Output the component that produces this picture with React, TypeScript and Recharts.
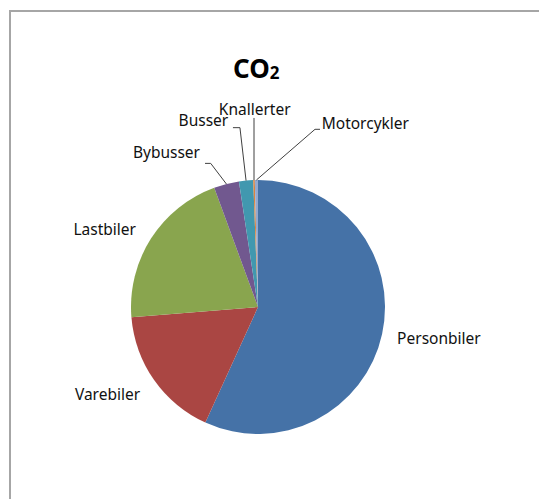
import { PieChart, Pie, Cell } from 'recharts';

// CO2 share per vehicle type (%)
const categories = ['Personbiler', 'Varebiler', 'Lastbiler', 'Bybusser', 'Busser', 'Knallerter', 'Motorcykler'];
const shares = [56.8, 16.9, 20.7, 3.2, 1.8, 0.2, 0.4];

const COLORS = ['#4572A7', '#AA4643', '#89A54E', '#71588F', '#4198AF', '#DB843D', '#93A9CF'];

const pieData = categories.map((name, i) => ({ name, value: shares[i] }));

const FONT = '"Noto Sans", "Open Sans", sans-serif';
const RADIAN = Math.PI / 180;

// label placement, relative to the point where the slice's mid-angle meets the rim
type LabelPlacement = {
  text: [number, number];
  anchor: 'start' | 'middle' | 'end';
  elbow?: [number, number];
  tail?: number;
};

const placements: Record<string, LabelPlacement> = {
  Personbiler: { text: [15, 10.5], anchor: 'start' },
  Varebiler: { text: [-14, 20], anchor: 'end' },
  Lastbiler: { text: [-15, -3.5], anchor: 'end' },
  Bybusser: { text: [-26.4, -26.2], anchor: 'end', elbow: [-15.7, -20.6], tail: -21.4 },
  Busser: { text: [-17.8, -54.9], anchor: 'end', elbow: [-6.1, -52.9], tail: -13.1 },
  Knallerter: { text: [0.7, -65.1], anchor: 'middle', elbow: [0, -62.1] },
  Motorcykler: { text: [65.3, -50.7], anchor: 'start', elbow: [58.6, -50.7], tail: 63.6 },
};

function renderLabel(props: any) {
  const { cx, cy, midAngle, outerRadius, name } = props;
  const ex = cx + outerRadius * Math.cos(-midAngle * RADIAN);
  const ey = cy + outerRadius * Math.sin(-midAngle * RADIAN);
  const p = placements[name];
  if (!p) return null;
  let leader = null;
  if (p.elbow) {
    const bx = ex + p.elbow[0];
    const by = ey + p.elbow[1];
    let d = `M${ex},${ey}L${bx},${by}`;
    if (p.tail !== undefined) d += `L${ex + p.tail},${by}`;
    leader = <path d={d} stroke="#404040" strokeWidth={1} fill="none" />;
  }
  return (
    <g>
      {leader}
      <text
        x={ex + p.text[0]}
        y={ey + p.text[1]}
        textAnchor={p.anchor}
        fill="#111"
        fontSize={15.5}
        fontFamily={FONT}
      >
        {name}
      </text>
    </g>
  );
}

export default function App() {
  return (
    <div style={{ position: 'fixed', left: 0, top: 0, width: 539, height: 499, overflow: 'hidden', background: '#fff' }}>
      <style>{'html, body { margin: 0; overflow: hidden; }'}</style>
      <div style={{ position: 'absolute', left: 0, top: 0 }}>
        <PieChart width={539} height={499} margin={{ top: 0, right: 0, bottom: 0, left: 0 }}>
          <Pie
            data={pieData}
            dataKey="value"
            nameKey="name"
            cx={258}
            cy={307}
            outerRadius={127}
            startAngle={90}
            endAngle={-270}
            stroke="none"
            labelLine={false}
            label={renderLabel}
            isAnimationActive={false}
          >
            {pieData.map((entry, index) => (
              <Cell key={`cell-${index}`} fill={COLORS[index % COLORS.length]} />
            ))}
          </Pie>
        </PieChart>
      </div>
      <svg width={539} height={499} style={{ position: 'absolute', left: 0, top: 0, pointerEvents: 'none' }}>
        {/* chart frame: only the left and top sides fall inside the view */}
        <path d="M10,499L10,11L539,11" stroke="#a6a6a6" strokeWidth={2} fill="none" />
        <text x={233} y={78} fontFamily={FONT} fontWeight="bold" fontSize={26} fill="#000">
          CO
          <tspan fontSize={17} dy={1}>2</tspan>
        </text>
      </svg>
    </div>
  );
}
